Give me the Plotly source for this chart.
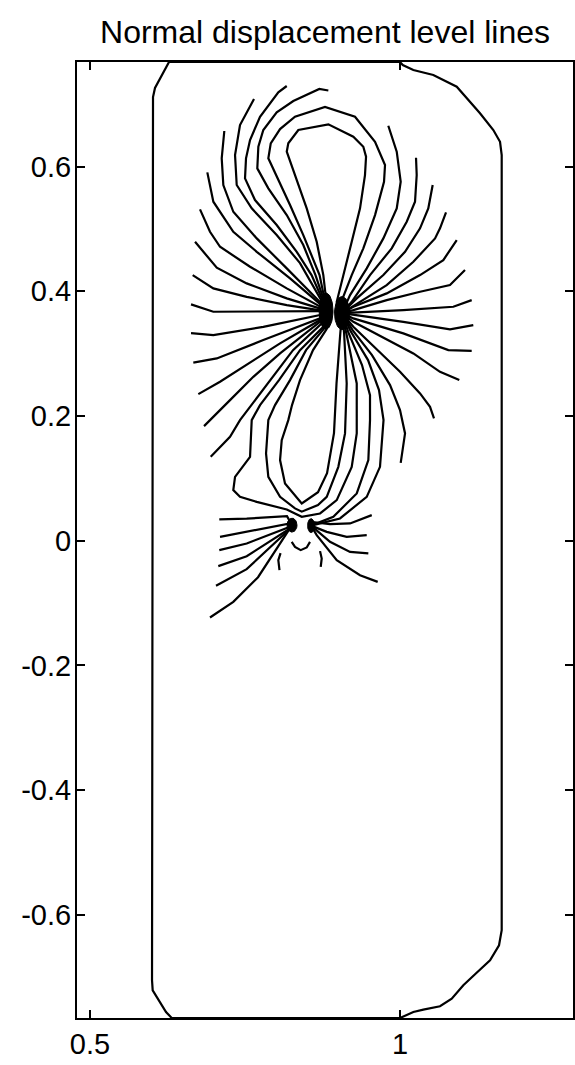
import numpy as np
import plotly.graph_objects as go

TITLE = "Normal displacement level lines"

X_RANGE = [0.479, 1.279]
Y_RANGE = [-0.7656, 0.7677]
X_TICKS = [0.5, 1.0]
X_TICK_LABELS = ["0.5", "1"]
Y_TICKS = [-0.6, -0.4, -0.2, 0.0, 0.2, 0.4, 0.6]
Y_TICK_LABELS = ["-0.6", "-0.4", "-0.2", "0", "0.2", "0.4", "0.6"]

# points where the level lines meet
UP_L = (0.8806, 0.3682)
UP_R = (0.9065, 0.3650)
LOW_L = (0.8258, 0.0249)
LOW_R = (0.8565, 0.0241)

# the level lines crowd into solid spots around those points
SPOT_CENTERS = [UP_L, UP_R, LOW_L, LOW_R]
SPOT_HALF_WIDTHS = [0.0113, 0.0121, 0.0080, 0.0056]
SPOT_HALF_HEIGHTS = [0.0290, 0.0265, 0.0112, 0.0112]

# domain boundary
OUTLINE = [(1.0, 0.7677), (1.0044, 0.7629), (1.0215, 0.7549), (1.0537, 0.7468),
           (1.0915, 0.7281), (1.1290, 0.6854), (1.1505, 0.6586), (1.1613, 0.6398),
           (1.1640, 0.6185), (1.1640, -0.6249), (1.1597, -0.6490), (1.1452, -0.6730),
           (1.1210, -0.6955), (1.1021, -0.7131), (1.0834, -0.7345), (1.0645, -0.7468),
           (1.0376, -0.7521), (1.0215, -0.7560), (1.0, -0.7656), (0.6318, -0.7656),
           (0.6226, -0.7560), (0.6129, -0.7399), (0.6011, -0.7212), (0.6, -0.7051),
           (0.6016, 0.7115), (0.6048, 0.7260), (0.6161, 0.7468), (0.6274, 0.7677),
           (1.0, 0.7677)]

# closed loops above the upper pair
TOP_LOOP_1 = [UP_L, (0.8818, 0.3778), (0.8763, 0.4260), (0.8656, 0.4794), (0.8495, 0.5330),
              (0.8306, 0.5864), (0.8173, 0.6238), (0.8198, 0.6373), (0.8360, 0.6586),
              (0.8844, 0.6677), (0.9247, 0.6478), (0.9408, 0.6318), (0.9452, 0.6158),
              (0.9435, 0.5864), (0.9355, 0.5330), (0.9221, 0.4794), (0.9085, 0.4260),
              (0.8979, 0.3831), UP_R]
TOP_LOOP_2 = [UP_L, (0.8790, 0.3843), (0.8702, 0.4260), (0.8440, 0.4901), (0.8226, 0.5383),
              (0.8011, 0.5837), (0.7876, 0.6132), (0.7915, 0.6373), (0.8065, 0.6602),
              (0.8306, 0.6799), (0.8790, 0.6955), (0.9274, 0.6799), (0.9597, 0.6398),
              (0.9758, 0.6024), (0.9742, 0.5756), (0.9597, 0.5222), (0.9408, 0.4688),
              (0.9221, 0.4260), (0.9032, 0.3778), UP_R]

# open lines leaving the upper-left point
LEFT_A = [UP_L, (0.8782, 0.3826), (0.8637, 0.4260), (0.8440, 0.4741), (0.8173, 0.5222),
          (0.7876, 0.5651), (0.7698, 0.5971), (0.7715, 0.6318), (0.7795, 0.6586),
          (0.8011, 0.6870), (0.8279, 0.7051), (0.8698, 0.7244), (0.8844, 0.7220)]
LEFT_B = [UP_L, (0.8774, 0.3810), (0.8573, 0.4260), (0.8334, 0.4633), (0.8011, 0.5062),
          (0.7661, 0.5463), (0.7500, 0.5811), (0.7516, 0.6132), (0.7581, 0.6425),
          (0.7742, 0.6799), (0.8037, 0.7191), (0.8173, 0.7292)]
LEFT_C = [UP_L, (0.8766, 0.3794), (0.8387, 0.4452), (0.8011, 0.4901), (0.7608, 0.5330),
          (0.7366, 0.5704), (0.7339, 0.6185), (0.7419, 0.6666), (0.7645, 0.7083)]
LEFT_D = [UP_L, (0.8758, 0.3778), (0.8173, 0.4367), (0.7689, 0.4848), (0.7311, 0.5275),
          (0.7150, 0.5704), (0.7124, 0.6132), (0.7166, 0.6570)]
LEFT_E = [UP_L, (0.8750, 0.3762), (0.8226, 0.4207), (0.7689, 0.4633), (0.7311, 0.4954),
          (0.6989, 0.5436), (0.6892, 0.5907)]
LEFT_F = [UP_L, (0.8742, 0.3738), (0.8173, 0.4046), (0.7581, 0.4393), (0.7097, 0.4714),
          (0.6935, 0.4954), (0.6774, 0.5314)]
LEFT_G = [UP_L, (0.8742, 0.3714), (0.8173, 0.3886), (0.7527, 0.4126), (0.7044, 0.4377),
          (0.6694, 0.4794)]
LEFT_H = [UP_L, (0.8742, 0.3690), (0.8173, 0.3778), (0.7527, 0.3911), (0.6989, 0.4046),
          (0.6656, 0.4260)]
LEFT_I = [UP_L, (0.6989, 0.3671), (0.6629, 0.3790)]
LEFT_J = [UP_L, (0.8710, 0.3618), (0.7795, 0.3430), (0.6989, 0.3297), (0.6629, 0.3329)]
LEFT_K = [UP_L, (0.8710, 0.3565), (0.7795, 0.3217), (0.7044, 0.2923), (0.6666, 0.2856)]
LEFT_L = [UP_L, (0.8710, 0.3538), (0.8065, 0.3164), (0.7527, 0.2816), (0.7097, 0.2548),
          (0.6747, 0.2350)]
LEFT_M = [UP_L, (0.8710, 0.3510), (0.8065, 0.3003), (0.7634, 0.2628), (0.7258, 0.2254),
          (0.6839, 0.1837)]
LEFT_N = [UP_L, (0.8726, 0.3473), (0.8274, 0.3056), (0.7903, 0.2575), (0.7597, 0.2174),
          (0.7419, 0.1933), (0.7258, 0.1665), (0.6947, 0.1344)]

# loops joining the upper pair around the lower pair
MID_LOOP_1 = [UP_L, (0.8815, 0.3393), (0.8597, 0.3056), (0.8387, 0.2575), (0.8258, 0.2174),
              (0.8198, 0.1933), (0.8092, 0.1612), (0.8065, 0.1292), (0.8145, 0.0918),
              (0.8415, 0.0597), (0.8677, 0.0778), (0.8823, 0.1083), (0.8935, 0.1725),
              (0.8976, 0.2527), (0.9037, 0.3329), UP_R]
MID_LOOP_2 = [UP_L, (0.8782, 0.3409), (0.8484, 0.3056), (0.8226, 0.2575), (0.7984, 0.2174),
              (0.7876, 0.1933), (0.7839, 0.1399), (0.7876, 0.1024), (0.8065, 0.0703),
              (0.8306, 0.0517), (0.8415, 0.0465), (0.8677, 0.0570), (0.8818, 0.0703),
              (0.9005, 0.1184), (0.9113, 0.1720), (0.9140, 0.2522), (0.9098, 0.3329), UP_R]
MID_LOOP_3 = [UP_L, (0.8758, 0.3425), (0.8387, 0.3056), (0.8048, 0.2575), (0.7742, 0.2174),
              (0.7608, 0.1933), (0.7581, 0.1344), (0.7339, 0.1024), (0.7311, 0.0810),
              (0.7419, 0.0703), (0.7689, 0.0622), (0.8173, 0.0501), (0.8415, 0.0382),
              (0.8710, 0.0436), (0.8979, 0.0650), (0.9221, 0.1184), (0.9302, 0.1720),
              (0.9302, 0.2522), (0.9132, 0.3336), UP_R]

# lines from the upper-right point down to the lower-right point
MID_RIGHT_1 = [UP_R, (0.9165, 0.3345), (0.9387, 0.2816), (0.9516, 0.2334), (0.9516, 0.1933),
               (0.9489, 0.1292), (0.9302, 0.0757), (0.8924, 0.0382), LOW_R]
MID_RIGHT_2 = [UP_R, (0.9202, 0.3361), (0.9484, 0.2896), (0.9661, 0.2415), (0.9734, 0.1933),
               (0.9677, 0.1184), (0.9463, 0.0703), (0.9032, 0.0356), LOW_R]

# open lines leaving the upper-right point
RIGHT_A = [(0.9811, 0.6655), (0.9947, 0.6238), (1.0011, 0.5756), (0.9947, 0.5330),
           (0.9731, 0.4848), (0.9463, 0.4367), (0.9194, 0.3939), UP_R]
RIGHT_B = [(1.0258, 0.6141), (1.0269, 0.5864), (1.0242, 0.5436), (1.0108, 0.5115),
           (0.9866, 0.4688), (0.9516, 0.4260), (0.9221, 0.3831), UP_R]
RIGHT_C = [(1.0527, 0.5704), (1.0456, 0.5330), (1.0323, 0.5009), (1.0081, 0.4633),
           (0.9731, 0.4260), (0.9302, 0.3886), UP_R]
RIGHT_D = [(1.0742, 0.5266), (1.0645, 0.5009), (1.0565, 0.4848), (1.0215, 0.4473),
           (0.9785, 0.4099), (0.9302, 0.3806), UP_R]
RIGHT_E = [(1.0915, 0.4821), (1.0698, 0.4500), (1.0323, 0.4260), (0.9785, 0.3966),
           (0.9247, 0.3751), UP_R]
RIGHT_F = [(1.1048, 0.4340), (1.0806, 0.4099), (1.0323, 0.3992), (0.9785, 0.3858),
           (0.9247, 0.3698), UP_R]
RIGHT_G = [(1.1156, 0.3858), (1.0860, 0.3751), (1.0053, 0.3698), (0.9247, 0.3661), UP_R]
RIGHT_H = [(1.1182, 0.3457), (1.0806, 0.3388), (1.0053, 0.3510), (0.9247, 0.3618), UP_R]
RIGHT_I = [(1.1156, 0.3045), (1.0779, 0.3056), (1.0053, 0.3324), (0.9247, 0.3565), UP_R]
RIGHT_J = [(1.0956, 0.2575), (1.0645, 0.2708), (1.0215, 0.3003), (0.9247, 0.3510), UP_R]
RIGHT_K = [(1.0548, 0.1961), (1.0484, 0.2147), (1.0323, 0.2362), (1.0, 0.2708),
           (0.9247, 0.3430), UP_R]
RIGHT_L = [(1.0011, 0.1248), (1.0081, 0.1720), (1.0, 0.2094), (0.9839, 0.2495),
           (0.9548, 0.2976), (0.9235, 0.3377), UP_R]

# lines leaving the lower-left point
LOW_LEFT_A = [(0.7085, 0.0340), (0.7527, 0.0353), (0.8177, 0.0393), LOW_L]
LOW_LEFT_B = [(0.7097, 0.0061), (0.7527, 0.0141), (0.8226, 0.0276), LOW_L]
LOW_LEFT_C = [(0.7085, -0.0152), (0.7527, -0.0045), (0.8226, 0.0221), LOW_L]
LOW_LEFT_D = [(0.7069, -0.0409), (0.7527, -0.0249), (0.8226, 0.0196), LOW_L]
LOW_LEFT_E = [(0.7032, -0.0722), (0.7527, -0.0457), (0.8173, 0.0144), LOW_L]
LOW_LEFT_F = [(0.6935, -0.1232), (0.7311, -0.0982), (0.7710, -0.0586), (0.8173, 0.0104), LOW_L]

# lines leaving the lower-right point
LOW_RIGHT_A = [(0.9544, 0.0409), (0.9194, 0.0276), (0.8871, 0.0265), (0.8602, 0.0297), LOW_R]
LOW_RIGHT_B = [(0.9463, 0.0088), (0.9140, 0.0061), (0.8818, 0.0141), LOW_R]
LOW_RIGHT_C = [(0.9489, -0.0205), (0.9194, -0.0180), (0.8871, -0.0019), LOW_R]
LOW_RIGHT_D = [(0.9640, -0.0661), (0.9355, -0.0554), (0.8979, -0.0313), (0.8656, 0.0088), LOW_R]

# short pieces below the lower pair
CUP = [(0.8253, -0.0019), (0.8306, -0.0099), (0.8398, -0.0152), (0.8495, -0.0109),
       (0.8548, -0.0019)]
ARC_LEFT = [(0.8073, -0.0201), (0.8037, -0.0313), (0.8056, -0.0473)]
ARC_RIGHT = [(0.8710, -0.0168), (0.8737, -0.0286), (0.8721, -0.0420)]

LEVEL_LINES = [
    OUTLINE, TOP_LOOP_1, TOP_LOOP_2,
    LEFT_A, LEFT_B, LEFT_C, LEFT_D, LEFT_E, LEFT_F, LEFT_G, LEFT_H, LEFT_I,
    LEFT_J, LEFT_K, LEFT_L, LEFT_M, LEFT_N,
    MID_LOOP_1, MID_LOOP_2, MID_LOOP_3, MID_RIGHT_1, MID_RIGHT_2,
    RIGHT_A, RIGHT_B, RIGHT_C, RIGHT_D, RIGHT_E, RIGHT_F, RIGHT_G, RIGHT_H,
    RIGHT_I, RIGHT_J, RIGHT_K, RIGHT_L,
    LOW_LEFT_A, LOW_LEFT_B, LOW_LEFT_C, LOW_LEFT_D, LOW_LEFT_E, LOW_LEFT_F,
    LOW_RIGHT_A, LOW_RIGHT_B, LOW_RIGHT_C, LOW_RIGHT_D,
    CUP, ARC_LEFT, ARC_RIGHT,
]

FONT = "Liberation Sans, Arial, Helvetica, sans-serif"
INK = "black"

fig = go.Figure()
for pts in LEVEL_LINES:
    fig.add_trace(go.Scatter(
        x=[p[0] for p in pts],
        y=[p[1] for p in pts],
        mode="lines",
        line=dict(color=INK, width=2.2),
        hoverinfo="skip",
        showlegend=False,
    ))

# dense bundles of level lines near the singular points, drawn as solid ovals
theta = np.linspace(0.0, 2.0 * np.pi, 48)
for (cx, cy), hw, hh in zip(SPOT_CENTERS, SPOT_HALF_WIDTHS, SPOT_HALF_HEIGHTS):
    fig.add_trace(go.Scatter(
        x=cx + hw * np.cos(theta),
        y=cy + hh * np.sin(theta),
        mode="lines",
        fill="toself",
        fillcolor=INK,
        line=dict(color=INK, width=1),
        hoverinfo="skip",
        showlegend=False,
    ))

axis_common = dict(
    showgrid=False,
    zeroline=False,
    showline=True,
    linecolor=INK,
    linewidth=2,
    mirror="ticks",
    ticks="inside",
    ticklen=8,
    tickwidth=1.5,
    tickcolor=INK,
    automargin=False,
    tickfont=dict(family=FONT, size=29, color=INK),
)

fig.update_xaxes(range=X_RANGE, tickvals=X_TICKS, ticktext=X_TICK_LABELS,
                 ticklabelstandoff=-1, **axis_common)
fig.update_yaxes(range=Y_RANGE, tickvals=Y_TICKS, ticktext=Y_TICK_LABELS,
                 ticklabelstandoff=-2, **axis_common)

fig.update_layout(
    width=575,
    height=1065,
    margin=dict(l=77, r=2, t=62, b=47),
    paper_bgcolor="white",
    plot_bgcolor="white",
    title=dict(text=TITLE, x=0.5, xref="paper", xanchor="center",
               y=1 - 32 / 1065, yref="container", yanchor="middle",
               font=dict(family=FONT, size=32, color=INK)),
)

fig.write_html("out.html")
